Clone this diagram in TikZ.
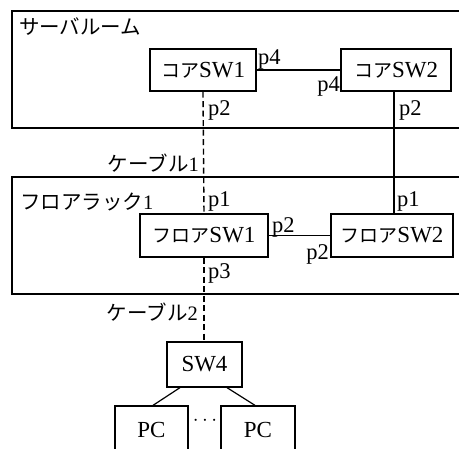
\documentclass[tikz,border=0pt]{standalone}
\usepackage{fontspec}
\setmainfont{Liberation Serif}
\newfontfamily\jp{Noto Sans CJK JP}
\newcommand{\jb}[1]{{\fontsize{19}{19}\selectfont\jp #1}}
\begin{document}
\begin{tikzpicture}[x=1pt,y=-1pt,
  box/.style={draw,line width=1.3pt,minimum height=42pt,inner sep=0pt,font=\fontsize{23}{23}\selectfont},
  area/.style={draw,line width=1.3pt},
  lbl/.style={inner sep=0pt,font=\fontsize{22.5}{22.5}\selectfont},
  jlbl/.style={inner sep=0pt,font=\fontsize{20.5}{20.5}\selectfont\jp},
  link/.style={line width=1.2pt},
  dlink/.style={line width=1.4pt,dash pattern=on 6pt off 3.5pt}]
\useasboundingbox (0,0) rectangle (459,449);
% areas
\draw[area] (12,11) rectangle (475,128);
\draw[area] (12,177) rectangle (475,294);
\node[jlbl,anchor=west] (server) at (19,27) {サーバルーム};
\node[jlbl,anchor=west] (rack) at (20,202) {フロアラック{\rmfamily 1}};
% switches
\node[box,minimum width=106pt] (core1) at (203,70) {\jb{コア}SW1};
\node[box,minimum width=110pt] (core2) at (396,70) {\jb{コア}SW2};
\node[box,minimum width=128pt,minimum height=43pt] (floor1) at (204,235.5) {\jb{フロア}SW1};
\node[box,minimum width=122pt,minimum height=43pt] (floor2) at (392,235.5) {\jb{フロア}SW2};
\node[box,minimum width=75pt,minimum height=45pt] (sw4) at (204.5,364.5) {SW4};
\node[box,minimum width=73pt,minimum height=48pt] (pc1) at (151.5,430) {PC};
\node[box,minimum width=74pt,minimum height=48pt] (pc2) at (258,430) {PC};
\node[lbl] (dots) at (205,421) {$\cdots$};
% links
\draw[link] (core1.east) -- (core2.west);
\draw[link] (floor1.east) -- (floor2.west);
\draw[dlink] (core1.south) -- (floor1.north);
\draw[dlink] (floor1.south) -- (sw4.north -| floor1.south);
\draw[link] (core2.south -| 394,0) -- (floor2.north -| 394,0);
\draw[link] (sw4.south -| 180,0) -- (pc1.north -| 153,0);
\draw[link] (sw4.south -| 227,0) -- (pc2.north -| 255,0);
% port labels
\node[lbl,anchor=west] (l1) at (258,59) {p4};
\node[lbl,anchor=east] (l2) at (340,86) {p4};
\node[lbl,anchor=west] (l3) at (208,110) {p2};
\node[lbl,anchor=west] (l4) at (399,110) {p2};
\node[jlbl,anchor=east] (c1) at (199,163) {ケーブル{\rmfamily 1}};
\node[lbl,anchor=west] (l5) at (208,201) {p1};
\node[lbl,anchor=west] (l6) at (397,201) {p1};
\node[lbl,anchor=west] (l7) at (272,227) {p2};
\node[lbl,anchor=east] (l8) at (329,254) {p2};
\node[lbl,anchor=west] (l9) at (208,273) {p3};
\node[jlbl,anchor=east] (c2) at (198,312) {ケーブル{\rmfamily 2}};
\end{tikzpicture}
\end{document}
